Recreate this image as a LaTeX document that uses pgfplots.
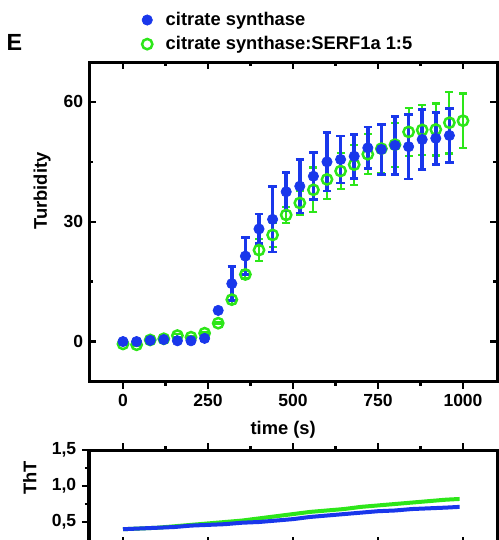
\documentclass[border=0pt]{standalone}
\usepackage{fontspec}
\setmainfont{Liberation Sans}
\usepackage{pgfplots}
\usepackage{pgfplotstable}
\pgfplotsset{compat=1.18}
\definecolor{cblue}{RGB}{25,55,235}
\definecolor{cgreen}{RGB}{45,230,25}

% turbidity, citrate synthase
\pgfplotstableread{
x y e
0 0.0 0.3
40 0.0 0.3
80 0.3 0.3
120 0.5 0.3
160 0.2 0.3
200 0.2 0.3
240 0.8 0.5
280 7.8 0.5
320 14.5 4.3
360 21.4 4.6
400 28.2 3.7
440 30.6 8.2
480 37.5 4.8
520 38.9 6.7
560 41.4 5.9
600 45.0 7.3
640 45.6 5.9
680 46.4 5.5
720 48.5 5.2
760 48.1 6.3
800 49.1 7.2
840 48.8 8.1
880 50.6 7.5
920 50.9 6.5
960 51.6 6.7
}\csdata

% turbidity, citrate synthase:SERF1a 1:5
\pgfplotstableread{
x y e
0 -0.6 0.3
40 -0.8 0.3
80 0.4 0.3
120 0.7 0.3
160 1.5 0.3
200 1.1 0.3
240 2.1 0.3
280 4.6 0.3
320 10.5 1.0
360 16.8 1.0
400 22.9 2.8
440 26.7 3.0
480 31.7 2.0
520 34.7 3.0
560 38.0 5.6
600 40.6 5.0
640 42.7 4.6
680 44.3 5.0
720 46.9 5.0
760 48.3 6.0
800 49.3 5.5
840 52.5 6.0
880 53.0 6.3
920 53.1 6.5
960 54.8 7.7
1000 55.3 6.8
}\serfdata

% ThT traces
\pgfplotstableread{
x y
0 0.40
50 0.41
100 0.42
150 0.43
200 0.45
250 0.46
300 0.47
350 0.49
400 0.50
450 0.52
500 0.54
550 0.57
600 0.59
650 0.61
700 0.63
750 0.65
800 0.66
850 0.68
900 0.69
950 0.70
990 0.71
}\thtblue

\pgfplotstableread{
x y
0 0.40
50 0.41
100 0.42
150 0.44
200 0.46
250 0.48
300 0.50
350 0.52
400 0.55
450 0.58
500 0.61
550 0.64
600 0.66
650 0.68
700 0.71
750 0.73
800 0.75
850 0.77
900 0.79
950 0.81
990 0.82
}\thtgreen

\pgfplotsset{
  frame/.style={
    scale only axis, width=244.8pt,
    xmin=-100, xmax=1100,
    axis line style={line width=1.8pt},
    tick style={line width=1.5pt, black},
    major tick length=4.2pt, minor tick length=2.4pt,
    tick label style={font=\bfseries\fontsize{10.5}{12}\selectfont},
    label style={font=\bfseries\fontsize{11}{13}\selectfont},
    /pgf/number format/assume math mode=true,
    /pgf/number format/set thousands separator={},
    xtick={0,250,...,1000}, minor x tick num=1,
  },
}

\begin{document}
\begin{tikzpicture}

% main panel: data, y ticks, top ticks
\begin{axis}[frame,
  at={(53.4pt,-37.2pt)}, anchor=north west, height=191.7pt,
  ymin=-10, ymax=70,
  ytick={0,30,60}, minor y tick num=1,
  ytick pos=both, xtick pos=top, xticklabels={},
  tick align=inside,
  ylabel={Turbidity},
  ylabel style={at={(axis description cs:-0.115,0.596)}, anchor=center},
  legend style={draw=none, fill=none, at={(axis description cs:0.117,1.178)},
    anchor=north west, font=\bfseries\fontsize{11}{13}\selectfont,
    row sep=1pt, column sep=6pt},
  legend cell align=left, reverse legend,
]
\addplot[only marks, mark=o, mark size=3.1pt,
  mark options={line width=1.5pt, draw=cgreen, fill=none},
  error bars/.cd, y dir=both, y explicit,
  error bar style={line width=1.3pt, cgreen},
  error mark options={rotate=90, mark size=2.4pt, line width=1.3pt, cgreen}]
  table[x=x, y=y, y error=e] {\serfdata};
\addlegendentry{citrate synthase:SERF1a 1:5}
\addplot[only marks, mark=*, mark size=3.1pt,
  mark options={fill=cblue, draw=cblue},
  error bars/.cd, y dir=both, y explicit,
  error bar style={line width=2.1pt, cblue},
  error mark options={rotate=90, mark size=2.5pt, line width=1.6pt, cblue}]
  table[x=x, y=y, y error=e] {\csdata};
\addlegendentry{citrate synthase}
\end{axis}

% main panel: bottom ticks and labels
\begin{axis}[frame,
  at={(53.4pt,-37.2pt)}, anchor=north west, height=191.7pt,
  ymin=-10, ymax=70, ytick=\empty,
  xtick pos=bottom, tick align=outside,
  xlabel={time (s)},
  xlabel style={at={(axis description cs:0.476,-0.152)}, anchor=center},
]
\end{axis}

% ThT panel
\begin{axis}[frame,
  at={(53.4pt,-270pt)}, anchor=north west, height=56.16pt,
  ymin=0.2, ymax=1.5,
  ytick={0.5,1.0,1.5}, minor y tick num=1,
  ytick pos=left, xtick pos=top, xticklabels={},
  tick align=outside,
  yticklabel style={/pgf/number format/.cd, fixed, fixed zerofill, precision=1, use comma},
  ylabel={ThT},
  ylabel style={at={(axis description cs:-0.145,0.70)}, anchor=center},
]
\addplot[cgreen, line width=2.4pt, no marks] table[x=x, y=y] {\thtgreen};
\addplot[cblue, line width=2.4pt, no marks] table[x=x, y=y] {\thtblue};
\end{axis}

\begin{axis}[frame,
  at={(53.4pt,-270pt)}, anchor=north west, height=56.16pt,
  ymin=0.2, ymax=1.5, ytick=\empty,
  xtick pos=bottom, xticklabels={}, tick align=inside,
]
\end{axis}

\node[font=\bfseries\fontsize{14}{14}\selectfont] at (8.7pt,-25.2pt) {E};

\pgfresetboundingbox
\useasboundingbox (0pt,0pt) rectangle (299.4pt,-324pt);
\end{tikzpicture}
\end{document}
